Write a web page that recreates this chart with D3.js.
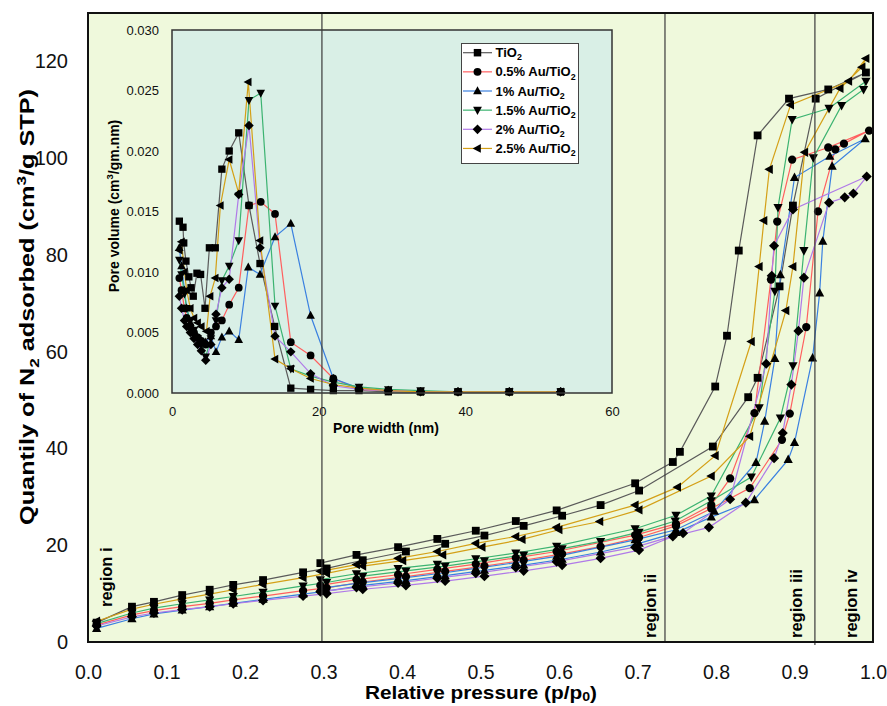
<!DOCTYPE html>
<html>
<head>
<meta charset="utf-8">
<script src="https://cdn.jsdelivr.net/npm/d3@7"></script>
<style>
  body { margin: 0; background: #fff; }
  text { font-family: "Liberation Sans", Arial, sans-serif; }
</style>
</head>
<body>
<svg id="chart" width="887" height="706"></svg>
<script>
// ---- Series labels ----
const seriesNames = ["TiO2", "0.5% Au/TiO2", "1% Au/TiO2", "1.5% Au/TiO2", "2% Au/TiO2", "2.5% Au/TiO2"];
const seriesColors = ["#5a5a5a", "#ff5f5f", "#3a80e0", "#3cb371", "#b07ae8", "#d4a017"];
const seriesSymbols = ["square", "circle", "triUp", "triDown", "diamond", "triLeft"];

// ---- N2 isotherms: [p/p0, quantity], adsorption branch then desorption branch ----
const isoTiO2 = [
  [0.011,4.0],[0.056,7.3],[0.084,8.3],[0.12,9.7],[0.155,10.8],[0.185,11.8],[0.223,12.8],[0.274,14.4],[0.304,15.2],
  [0.35,16.9],[0.405,18.7],[0.455,20.3],[0.505,22.0],[0.555,24.0],[0.604,26.1],[0.653,28.3],[0.702,31.3],
  [0.796,40.4],[0.841,50.6],[0.853,54.6],[0.881,73.5],[0.898,90.2],[0.927,112.3],[0.991,117.7],
  [0.943,114.2],[0.893,112.3],[0.853,104.7],[0.829,80.9],[0.814,63.3],[0.799,52.8],[0.754,39.3],[0.745,37.2],
  [0.697,32.8],[0.597,27.2],[0.545,25.0],[0.494,23.0],[0.445,21.3],[0.395,19.6],[0.342,18.0],[0.296,16.3]
];
const isoAu05 = [
  [0.011,3.5],[0.056,5.6],[0.084,6.5],[0.12,7.3],[0.155,8.0],[0.185,8.7],[0.223,9.5],[0.274,10.6],[0.304,11.2],
  [0.35,12.4],[0.405,13.5],[0.455,14.6],[0.505,15.7],[0.555,16.9],[0.604,18.2],[0.653,19.7],[0.702,21.6],
  [0.749,24.0],[0.794,27.6],[0.843,31.8],[0.884,41.8],[0.894,47.2],[0.915,65.1],[0.930,89.0],[0.952,101.8],[0.963,103.0],[0.995,105.7],
  [0.943,102.2],[0.897,99.7],[0.878,86.9],[0.870,74.9],[0.849,47.3],[0.818,33.8],[0.794,28.3],[0.749,24.4],
  [0.697,22.1],[0.597,18.7],[0.545,17.4],[0.494,16.1],[0.445,15.0],[0.395,13.9],[0.342,12.9],[0.296,11.7]
];
const isoAu1 = [
  [0.011,2.8],[0.056,4.8],[0.084,5.8],[0.12,6.6],[0.155,7.3],[0.185,8.0],[0.223,8.8],[0.274,9.9],[0.304,10.5],
  [0.35,11.7],[0.405,12.7],[0.455,13.7],[0.505,14.8],[0.555,15.9],[0.604,17.1],[0.653,18.6],[0.702,20.4],
  [0.749,22.6],[0.794,25.8],[0.849,29.4],[0.892,37.7],[0.900,41.2],[0.923,58.7],[0.932,72.1],[0.936,82.8],[0.948,98.3],[0.990,104.0],
  [0.945,100.4],[0.900,96.0],[0.882,75.9],[0.875,58.6],[0.862,45.6],[0.851,37.1],[0.798,27.0],[0.749,23.2],
  [0.697,21.1],[0.597,17.7],[0.545,16.4],[0.494,15.2],[0.445,14.1],[0.395,13.1],[0.342,12.1],[0.296,11.1]
];
const isoAu15 = [
  [0.011,3.8],[0.056,6.0],[0.084,7.0],[0.12,7.9],[0.155,8.7],[0.185,9.4],[0.223,10.3],[0.274,11.6],[0.304,12.3],
  [0.35,13.6],[0.405,14.7],[0.455,15.7],[0.505,16.8],[0.555,18.0],[0.604,19.3],[0.653,20.8],[0.702,22.7],
  [0.748,25.0],[0.794,29.2],[0.845,34.1],[0.882,46.3],[0.898,57.1],[0.912,80.9],[0.924,100.1],[0.960,110.9],[0.988,114.2],[0.991,115.9],
  [0.944,110.3],[0.897,108.0],[0.879,89.8],[0.875,72.5],[0.855,48.4],[0.794,30.2],[0.749,26.2],
  [0.697,23.4],[0.597,19.8],[0.545,18.4],[0.494,17.2],[0.445,16.1],[0.395,15.2],[0.342,14.1],[0.296,12.9]
];
const isoAu2 = [
  [0.011,3.3],[0.056,5.2],[0.084,6.0],[0.12,6.7],[0.155,7.3],[0.185,7.9],[0.223,8.6],[0.274,9.5],[0.304,10.0],
  [0.35,10.9],[0.405,11.7],[0.455,12.6],[0.505,13.6],[0.555,14.7],[0.604,15.9],[0.653,17.3],[0.702,19.0],
  [0.745,21.8],[0.791,23.7],[0.838,28.8],[0.874,38.0],[0.885,43.2],[0.896,53.2],[0.905,64.3],[0.912,75.3],[0.944,90.8],[0.964,91.9],[0.975,92.7],[0.992,96.2],
  [0.898,89.4],[0.874,81.9],[0.871,75.7],[0.864,57.5],[0.818,29.5],[0.758,22.5],
  [0.697,19.6],[0.597,16.6],[0.545,15.4],[0.494,14.2],[0.445,13.2],[0.395,12.2],[0.342,11.3],[0.296,10.4]
];
const isoAu25 = [
  [0.011,4.3],[0.056,6.8],[0.084,7.8],[0.12,8.9],[0.155,9.9],[0.185,10.8],[0.223,11.9],[0.274,13.3],[0.304,14.2],
  [0.35,15.7],[0.401,16.8],[0.452,18.0],[0.502,19.6],[0.553,21.2],[0.600,23.2],[0.652,24.9],[0.702,27.3],
  [0.794,34.3],[0.843,42.5],[0.889,68.5],[0.898,77.6],[0.913,101.2],[0.958,114.4],[0.986,118.8],[0.991,120.6],
  [0.969,115.9],[0.895,111.0],[0.868,97.7],[0.861,87.1],[0.855,77.6],[0.845,62.1],[0.799,38.5],[0.751,32.0],
  [0.697,28.3],[0.597,23.7],[0.545,21.8],[0.494,20.4],[0.445,18.7],[0.395,17.3],[0.342,16.0],[0.296,14.6]
];

// ---- Pore size distributions: [pore width nm, pore volume] ----
const psdTiO2 = [
  [1.0,0.0142],[1.5,0.0137],[1.6,0.0124],[1.9,0.0109],[2.3,0.0096],[2.6,0.0087],[2.9,0.0080],[3.4,0.0099],[3.9,0.0098],
  [4.5,0.0070],[5.1,0.0120],[5.9,0.0120],[6.8,0.0185],[7.8,0.0200],[9.1,0.0215],[10.5,0.0155],[12.0,0.0107],[14.0,0.0055],
  [16.2,0.0004],[18.9,0.0003],[22.0,0.0002],[25.5,0.0002],[29.5,0.0001],[33.9,0.0001],[39.0,0.0001],[46.0,0.0001],[53.0,0.0001]
];
const psdAu05 = [
  [1.0,0.0095],[1.3,0.0085],[1.7,0.0070],[2.0,0.0062],[2.5,0.0055],[3.0,0.0050],[3.5,0.0046],[4.0,0.0043],[4.6,0.0040],
  [5.3,0.0050],[6.0,0.0055],[6.8,0.0060],[7.8,0.0073],[9.1,0.0087],[10.5,0.0155],[12.1,0.0158],[14.05,0.0148],
  [16.2,0.0042],[18.9,0.0031],[22.0,0.0012],[25.5,0.0003],[29.5,0.0002],[33.9,0.0001],[39.0,0.0001],[46.0,0.0001],[53.0,0.0001]
];
const psdAu1 = [
  [1.0,0.0120],[1.3,0.0105],[1.7,0.0085],[2.0,0.0070],[2.5,0.0058],[3.0,0.0050],[3.5,0.0046],[4.0,0.0043],[4.6,0.0042],
  [5.3,0.0047],[6.0,0.0034],[6.8,0.0046],[7.8,0.0051],[9.1,0.0044],[10.4,0.0104],[12.0,0.0098],[14.05,0.0129],
  [16.2,0.0140],[18.9,0.0064],[22.0,0.0012],[25.5,0.0004],[29.5,0.0002],[33.9,0.0001],[39.0,0.0001],[46.0,0.0001],[53.0,0.0001]
];
const psdAu15 = [
  [1.0,0.0110],[1.3,0.0098],[1.7,0.0082],[2.0,0.0070],[2.5,0.0060],[3.0,0.0052],[3.5,0.0045],[4.0,0.0040],[4.6,0.0030],
  [5.3,0.0045],[6.0,0.0060],[6.8,0.0093],[7.8,0.0105],[9.1,0.0126],[10.5,0.0242],[12.1,0.0248],[14.05,0.0072],
  [16.2,0.0020],[18.9,0.0014],[22.0,0.0009],[25.5,0.0005],[29.5,0.0003],[33.9,0.0002],[39.0,0.0001],[46.0,0.0001],[53.0,0.0001]
];
const psdAu2 = [
  [1.0,0.0080],[1.3,0.0070],[1.7,0.0060],[2.0,0.0055],[2.5,0.0050],[3.0,0.0045],[3.5,0.0040],[4.0,0.0035],[4.6,0.0027],
  [5.3,0.0040],[6.0,0.0065],[6.8,0.0087],[7.8,0.0094],[9.1,0.0164],[10.5,0.0221],[12.0,0.0120],[14.05,0.0047],
  [16.2,0.0034],[18.9,0.0016],[22.0,0.0006],[25.5,0.0003],[29.5,0.0002],[33.9,0.0001],[39.0,0.0001],[46.0,0.0001],[53.0,0.0001]
];
const psdAu25 = [
  [1.0,0.0118],[1.3,0.0125],[1.7,0.0100],[2.0,0.0085],[2.5,0.0070],[3.0,0.0062],[3.5,0.0058],[4.0,0.0055],[4.7,0.0051],
  [5.2,0.0080],[5.9,0.0095],[6.6,0.0155],[7.8,0.0193],[9.1,0.0165],[10.4,0.0257],[12.0,0.0126],[14.05,0.0028],
  [16.2,0.0020],[18.9,0.0012],[22.0,0.0007],[25.5,0.0004],[29.5,0.0002],[33.9,0.0001],[39.0,0.0001],[46.0,0.0001],[53.0,0.0001]
];

// ---- Axis ticks and region boundaries ----
const xTicks = [0, 0.1, 0.2, 0.3, 0.4, 0.5, 0.6, 0.7, 0.8, 0.9, 1.0];
const yTicks = [0, 20, 40, 60, 80, 100, 120];
const insetXTicks = [0, 20, 40, 60];
const insetYTicks = [0, 0.005, 0.010, 0.015, 0.020, 0.025, 0.030];
const regionBounds = [0.298, 0.735, 0.926];
const regionLabels = ["region i", "region ii", "region iii", "region iv"];

const isotherms = [isoTiO2, isoAu05, isoAu1, isoAu15, isoAu2, isoAu25];
const poreDists = [psdTiO2, psdAu05, psdAu1, psdAu15, psdAu2, psdAu25];

// ---- Marker shapes ----
const shapes = {
  square: s => `M${-s*0.85},${-s*0.85}h${s*1.7}v${s*1.7}h${-s*1.7}Z`,
  circle: s => { const r = s*0.9; return `M${r},0A${r},${r} 0 1 1 ${-r},0A${r},${r} 0 1 1 ${r},0Z`; },
  triUp: s => `M0,${-s*1.1}L${s},${s*0.75}L${-s},${s*0.75}Z`,
  triDown: s => `M0,${s*1.1}L${s},${-s*0.75}L${-s},${-s*0.75}Z`,
  diamond: s => `M0,${-s*1.1}L${s*1.1},0L0,${s*1.1}L${-s*1.1},0Z`,
  triLeft: s => `M${-s*1.1},0L${s*0.75},${-s}L${s*0.75},${s}Z`
};

const svg = d3.select("#chart");

// helper: text with sub/superscript parts
function richText(sel, parts, size, subShift = 0.24) {
  parts.forEach(p => {
    const t = sel.append("tspan").text(p.t);
    if (p.sub) {
      t.attr("font-size", size * 0.68).attr("dy", size * subShift);
      p._after = -size * subShift;
    } else if (p.sup) {
      t.attr("font-size", size * 0.68).attr("dy", -size * 0.42);
      p._after = size * 0.42;
    }
  });
  const tspans = sel.selectAll("tspan").nodes();
  parts.forEach((p, i) => {
    if (p._after && tspans[i + 1]) d3.select(tspans[i + 1]).attr("dy", p._after);
  });
  return sel;
}
function labelParts(name) {
  // trailing "2" in TiO2 is a subscript
  return [{ t: name.slice(0, -1) }, { t: name.slice(-1), sub: true }];
}

// ---- Main plot ----
const x = d3.scaleLinear().domain([0, 1]).range([88, 873]);
const y = d3.scaleLinear().domain([0, 130]).range([642, 13]);

svg.append("rect").attr("x", x(0)).attr("y", y(130))
  .attr("width", x(1) - x(0)).attr("height", y(0) - y(130))
  .attr("fill", "#eff9dc");

const gx = svg.append("g").attr("transform", `translate(0,${y(0)})`)
  .call(d3.axisBottom(x).tickValues(xTicks).tickSize(0).tickPadding(23.5).tickFormat(d3.format(".1f")));
gx.select(".domain").remove();
gx.selectAll("text").attr("font-size", 19.5).attr("font-family", "Liberation Sans, Arial, sans-serif").attr("fill", "#111");

const gy = svg.append("g").attr("transform", `translate(${x(0)},0)`)
  .call(d3.axisLeft(y).tickValues(yTicks).tickSize(0).tickPadding(20).tickFormat(d3.format("d")));
gy.select(".domain").remove();
gy.selectAll("text").attr("font-size", 20).attr("font-family", "Liberation Sans, Arial, sans-serif").attr("fill", "#111");

const line = d3.line().x(d => x(d[0])).y(d => y(d[1]));
const gLines = svg.append("g");
isotherms.forEach((data, i) => {
  gLines.append("path").attr("d", line(data)).attr("fill", "none")
    .attr("stroke", seriesColors[i]).attr("stroke-width", 1.2);
});
const gMarks = svg.append("g");
isotherms.forEach((data, i) => {
  gMarks.selectAll(null).data(data).join("path")
    .attr("transform", d => `translate(${x(d[0])},${y(d[1])})`)
    .attr("d", shapes[seriesSymbols[i]](4.6))
    .attr("fill", "#000");
});

// ---- Inset: pore size distribution ----
const ix = d3.scaleLinear().domain([0, 60]).range([172, 612]);
const iy = d3.scaleLinear().domain([0, 0.03]).range([393, 30]);

svg.append("rect").attr("x", ix(0)).attr("y", iy(0.03))
  .attr("width", ix(60) - ix(0)).attr("height", iy(0) - iy(0.03))
  .attr("fill", "#d9efe6");

const igx = svg.append("g").attr("transform", `translate(0,${iy(0)})`)
  .call(d3.axisBottom(ix).tickValues(insetXTicks).tickSize(0).tickPadding(14).tickFormat(d3.format("d")));
igx.select(".domain").remove();
igx.selectAll("text").attr("font-size", 13).attr("font-family", "Liberation Sans, Arial, sans-serif").attr("fill", "#111");

const igy = svg.append("g").attr("transform", `translate(${ix(0)},0)`)
  .call(d3.axisLeft(iy).tickValues(insetYTicks).tickSize(0).tickPadding(13).tickFormat(d3.format(".3f")));
igy.select(".domain").remove();
igy.selectAll("text").attr("font-size", 13).attr("font-family", "Liberation Sans, Arial, sans-serif").attr("fill", "#111");

const iline = d3.line().x(d => ix(d[0])).y(d => iy(d[1]));
const giLines = svg.append("g");
poreDists.forEach((data, i) => {
  giLines.append("path").attr("d", iline(data)).attr("fill", "none")
    .attr("stroke", seriesColors[i]).attr("stroke-width", 1.2);
});
const giMarks = svg.append("g");
poreDists.forEach((data, i) => {
  giMarks.selectAll(null).data(data).join("path")
    .attr("transform", d => `translate(${ix(d[0])},${iy(d[1])})`)
    .attr("d", shapes[seriesSymbols[i]](4.3))
    .attr("fill", "#000");
});

svg.append("rect").attr("x", ix(0)).attr("y", iy(0.03))
  .attr("width", ix(60) - ix(0)).attr("height", iy(0) - iy(0.03))
  .attr("fill", "none").attr("stroke", "#333").attr("stroke-width", 1.5);

// inset axis titles
svg.append("text").attr("x", 386).attr("y", 433).attr("text-anchor", "middle")
  .attr("font-size", 14).attr("font-weight", "bold").text("Pore width (nm)");
richText(svg.append("text").attr("transform", "translate(119,206) rotate(-90)")
  .attr("text-anchor", "middle").attr("font-size", 14).attr("font-weight", "bold"),
  [{ t: "Pore volume (cm" }, { t: "3", sup: true }, { t: "/gm.nm)" }], 14);

// ---- Legend ----
const lg = svg.append("g");
lg.append("rect").attr("x", 461.5).attr("y", 43.5).attr("width", 117).attr("height", 120)
  .attr("fill", "#fff").attr("stroke", "#444").attr("stroke-width", 1);
seriesNames.forEach((name, i) => {
  const yy = 52.7 + i * 19.15;
  lg.append("line").attr("x1", 463).attr("x2", 492).attr("y1", yy).attr("y2", yy)
    .attr("stroke", seriesColors[i]).attr("stroke-width", 1.2);
  lg.append("path").attr("transform", `translate(477.5,${yy})`)
    .attr("d", shapes[seriesSymbols[i]](4.4)).attr("fill", "#000");
  richText(lg.append("text").attr("x", 495.5).attr("y", yy + 4.6)
    .attr("font-size", 13).attr("font-weight", "bold"), labelParts(name), 13);
});

// ---- Region boundaries and labels ----
regionBounds.forEach((b, i) => {
  svg.append("line").attr("x1", x(b)).attr("x2", x(b)).attr("y1", y(130)).attr("y2", y(0) + (i === 2 ? 3 : 0))
    .attr("stroke", "#3a3a3a").attr("stroke-width", 1.2);
});
const regionLabelPos = [[112, 607], [656, 638], [802, 638], [857, 638]];
regionLabels.forEach((t, i) => {
  svg.append("text")
    .attr("transform", `translate(${regionLabelPos[i][0]},${regionLabelPos[i][1]}) rotate(-90)`)
    .attr("font-size", 16.5).attr("font-weight", "bold").text(t);
});

// ---- Frame ----
svg.append("rect").attr("x", x(0)).attr("y", y(130))
  .attr("width", x(1) - x(0)).attr("height", y(0) - y(130))
  .attr("fill", "none").attr("stroke", "#111").attr("stroke-width", 2);

// ---- Main axis titles ----
richText(svg.append("text").attr("x", 481).attr("y", 699).attr("text-anchor", "middle")
  .attr("font-size", 19).attr("font-weight", "bold")
  .attr("textLength", 232).attr("lengthAdjust", "spacingAndGlyphs"),
  [{ t: "Relative pressure (p/p" }, { t: "0", sub: true }, { t: ")" }], 19, 0.13);
richText(svg.append("text").attr("transform", "translate(34,307) rotate(-90)")
  .attr("text-anchor", "middle").attr("font-size", 20).attr("font-weight", "bold")
  .attr("textLength", 436).attr("lengthAdjust", "spacingAndGlyphs"),
  [{ t: "Quantily of N" }, { t: "2", sub: true }, { t: " adsorbed (cm" }, { t: "3", sup: true }, { t: "/g STP)" }], 20);
</script>
</body>
</html>
